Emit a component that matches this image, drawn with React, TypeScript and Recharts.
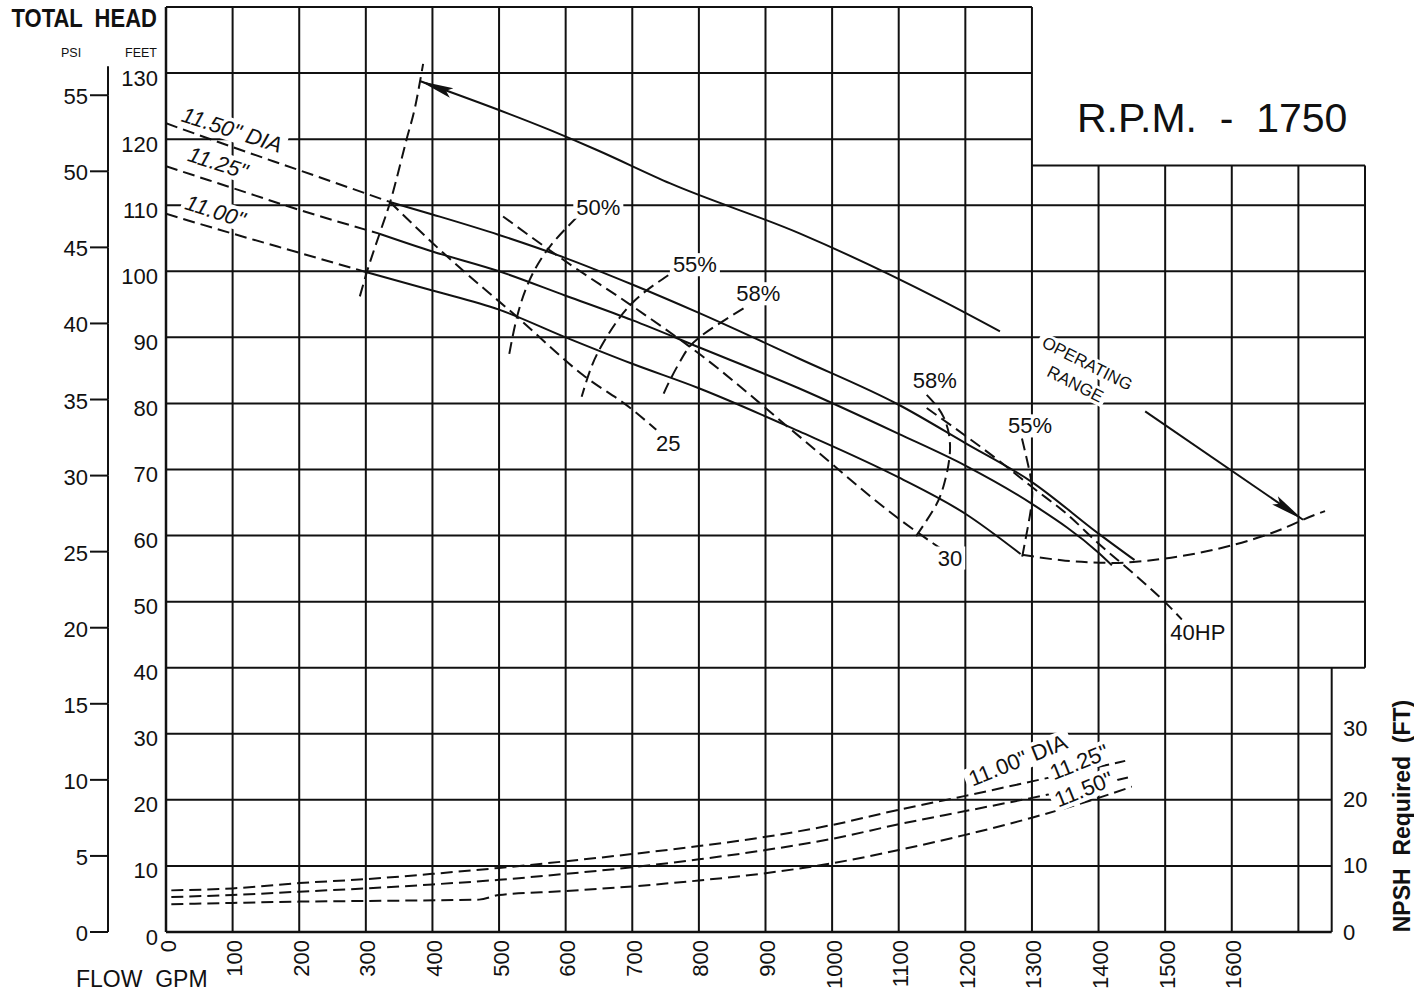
import React from 'react'
import { ComposedChart, Line, XAxis, YAxis, ReferenceLine, ReferenceDot } from 'recharts'

type Pt = { x: number; y: number }

const FONT = '"Liberation Sans", Arial, Helvetica, sans-serif'
const INK = '#111'

// layout
const CHART_W = 1414
const CHART_H = 1000
const MARGIN = { top: 7, right: 0, bottom: 0, left: 58 }
const FEET_AXIS_W = 58
const PSI_AXIS_W = 50
const NPSH_AXIS_W = 49
const FLOW_AXIS_H = 68
const PLOT_W = CHART_W - MARGIN.left - FEET_AXIS_W - PSI_AXIS_W - NPSH_AXIS_W
const PLOT_H = CHART_H - MARGIN.top - FLOW_AXIS_H

const FLOW_MAX = 1800
const FEET_MAX = 140
const PSI_MAX = 60.8

// axis ticks
const flowTicks = [0, 100, 200, 300, 400, 500, 600, 700, 800, 900, 1000, 1100, 1200, 1300, 1400, 1500, 1600]
const feetTicks = [0, 10, 20, 30, 40, 50, 60, 70, 80, 90, 100, 110, 120, 130]
const psiTicks = [0, 5, 10, 15, 20, 25, 30, 35, 40, 45, 50, 55]
const npshTicks = [0, 10, 20, 30]

// head curves (GPM, feet) - dashed below minimum flow, solid after
const head1150Dashed: Pt[] = [
  { x: 0, y: 122.4 }, { x: 100, y: 118.8 }, { x: 200, y: 115.3 }, { x: 336, y: 110.5 },
]
const head1150: Pt[] = [
  { x: 336, y: 110.5 }, { x: 400, y: 108.6 }, { x: 500, y: 105.5 }, { x: 600, y: 102 },
  { x: 700, y: 98 }, { x: 800, y: 93.7 }, { x: 950, y: 86.8 }, { x: 1100, y: 79.8 },
  { x: 1200, y: 74 }, { x: 1300, y: 68.1 }, { x: 1400, y: 60.3 }, { x: 1454, y: 56.3 },
]
const head1125Dashed: Pt[] = [
  { x: 0, y: 115.9 }, { x: 100, y: 112.6 }, { x: 200, y: 109.3 }, { x: 320, y: 105.7 },
]
const head1125: Pt[] = [
  { x: 320, y: 105.7 }, { x: 400, y: 103 }, { x: 500, y: 100 }, { x: 600, y: 96.3 },
  { x: 700, y: 92.6 }, { x: 800, y: 88.5 }, { x: 950, y: 82.3 }, { x: 1100, y: 75.4 },
  { x: 1200, y: 70.6 }, { x: 1300, y: 64.8 }, { x: 1400, y: 57.4 }, { x: 1420, y: 55.5 },
]
const head1100Dashed: Pt[] = [
  { x: 0, y: 108.7 }, { x: 100, y: 105.7 }, { x: 200, y: 102.8 }, { x: 300, y: 99.9 },
]
const head1100: Pt[] = [
  { x: 300, y: 99.9 }, { x: 400, y: 97.1 }, { x: 500, y: 94.2 }, { x: 600, y: 90 },
  { x: 700, y: 86 }, { x: 800, y: 82.3 }, { x: 950, y: 75.8 }, { x: 1100, y: 68.8 },
  { x: 1200, y: 63.3 }, { x: 1283, y: 57.2 },
]

// operating range boundaries and arrows
const minFlowEdge: Pt[] = [
  { x: 291, y: 96.2 }, { x: 301, y: 99.7 }, { x: 321, y: 105.8 }, { x: 336, y: 110.3 },
  { x: 361, y: 119.9 }, { x: 374, y: 124.9 }, { x: 386, y: 131.4 },
]
const maxFlowEdge: Pt[] = [
  { x: 1285, y: 57.1 }, { x: 1350, y: 56.2 }, { x: 1402, y: 55.9 }, { x: 1452, y: 56 },
  { x: 1552, y: 57.4 }, { x: 1652, y: 60.1 }, { x: 1707, y: 62.4 }, { x: 1740, y: 63.7 },
]
const rangeArrowUpper: Pt[] = [
  { x: 381, y: 128.8 }, { x: 576, y: 121.4 }, { x: 646, y: 118.4 }, { x: 757, y: 113.3 },
  { x: 952, y: 105.7 }, { x: 1162, y: 95.7 }, { x: 1252, y: 90.9 },
]
const rangeArrowLower: Pt[] = [{ x: 1470, y: 78.8 }, { x: 1707, y: 62.4 }]

// efficiency curves
const eff50: Pt[] = [
  { x: 617, y: 108.2 }, { x: 576, y: 103.7 }, { x: 546, y: 98.7 }, { x: 527, y: 93.1 }, { x: 515, y: 87.3 },
]
const eff55Left: Pt[] = [
  { x: 754, y: 99.4 }, { x: 697, y: 94.9 }, { x: 656, y: 89.1 }, { x: 637, y: 85.1 }, { x: 624, y: 81 },
]
const eff58Left: Pt[] = [
  { x: 867, y: 94.4 }, { x: 802, y: 90.1 }, { x: 776, y: 87.1 }, { x: 757, y: 83.6 }, { x: 745, y: 81 },
]
const eff58Right: Pt[] = [
  { x: 1142, y: 81.3 }, { x: 1167, y: 78 }, { x: 1177, y: 73 }, { x: 1167, y: 67.4 },
  { x: 1152, y: 63.9 }, { x: 1124, y: 59.6 },
]
const eff55Right: Pt[] = [
  { x: 1285, y: 74.7 }, { x: 1297, y: 69.4 }, { x: 1300, y: 65.4 }, { x: 1292, y: 60.3 }, { x: 1285, y: 56.6 },
]

// horsepower lines
const hp25: Pt[] = [
  { x: 336, y: 110.5 }, { x: 416, y: 102.8 }, { x: 527, y: 93.1 }, { x: 626, y: 84.3 },
  { x: 701, y: 79 }, { x: 736, y: 76 },
]
const hp30: Pt[] = [
  { x: 506, y: 108.3 }, { x: 597, y: 101.7 }, { x: 702, y: 94.6 }, { x: 802, y: 87.4 },
  { x: 952, y: 74.9 }, { x: 1102, y: 62.4 }, { x: 1162, y: 58.1 },
]
const hp40: Pt[] = [
  { x: 1142, y: 79.3 }, { x: 1252, y: 71.2 }, { x: 1302, y: 67.2 }, { x: 1352, y: 63.3 },
  { x: 1402, y: 58.6 }, { x: 1452, y: 54.3 }, { x: 1502, y: 49.7 }, { x: 1525, y: 47.3 },
]

// NPSH required (feet)
const npsh1100: Pt[] = [
  { x: 8, y: 6.3 }, { x: 100, y: 6.6 }, { x: 200, y: 7.4 }, { x: 300, y: 8 }, { x: 400, y: 8.8 },
  { x: 500, y: 9.7 }, { x: 600, y: 10.7 }, { x: 700, y: 11.8 }, { x: 800, y: 13 }, { x: 900, y: 14.4 },
  { x: 1000, y: 16.2 }, { x: 1100, y: 18.5 }, { x: 1200, y: 20.6 }, { x: 1300, y: 22.8 },
  { x: 1400, y: 25 }, { x: 1440, y: 25.9 },
]
const npsh1125: Pt[] = [
  { x: 8, y: 5.3 }, { x: 100, y: 5.6 }, { x: 200, y: 6.1 }, { x: 300, y: 6.6 }, { x: 400, y: 7.2 },
  { x: 500, y: 7.9 }, { x: 600, y: 8.8 }, { x: 700, y: 9.8 }, { x: 800, y: 11 }, { x: 900, y: 12.4 },
  { x: 1000, y: 14.1 }, { x: 1100, y: 16.3 }, { x: 1200, y: 18.3 }, { x: 1300, y: 20.3 },
  { x: 1400, y: 22.4 }, { x: 1450, y: 23.5 },
]
const npsh1150: Pt[] = [
  { x: 8, y: 4.2 }, { x: 100, y: 4.4 }, { x: 200, y: 4.6 }, { x: 300, y: 4.7 }, { x: 470, y: 4.9 },
  { x: 500, y: 5.6 }, { x: 600, y: 6.2 }, { x: 700, y: 6.9 }, { x: 800, y: 7.8 }, { x: 900, y: 8.9 },
  { x: 1000, y: 10.4 }, { x: 1100, y: 12.4 }, { x: 1200, y: 14.7 }, { x: 1300, y: 17.3 },
  { x: 1400, y: 20.3 }, { x: 1450, y: 22 },
]

// grid (the sheet is not a plain rectangle)
const gridVertical: { x: number; from: number; to: number }[] = [
  ...[0, 100, 200, 300, 400, 500, 600, 700, 800, 900, 1000, 1100, 1200, 1300].map(x => ({ x, from: 0, to: 140 })),
  ...[1400, 1500, 1600, 1700].map(x => ({ x, from: 0, to: 116 })),
  { x: 1750, from: 0, to: 40 },
  { x: 1800, from: 40, to: 116 },
]
const gridHorizontal: { y: number; from: number; to: number }[] = [
  ...[140, 130, 120].map(y => ({ y, from: 0, to: 1300 })),
  { y: 116, from: 1300, to: 1800 },
  ...[110, 100, 90, 80, 70, 60, 50, 40].map(y => ({ y, from: 0, to: 1800 })),
  ...[30, 20, 10, 0].map(y => ({ y, from: 0, to: 1750 })),
]

type Series = { key: string; data: Pt[]; dash?: boolean; curve?: 'monotone' | 'natural' | 'linear'; axis?: string }
const series: Series[] = [
  { key: 'h1150d', data: head1150Dashed, dash: true },
  { key: 'h1150', data: head1150 },
  { key: 'h1125d', data: head1125Dashed, dash: true },
  { key: 'h1125', data: head1125 },
  { key: 'h1100d', data: head1100Dashed, dash: true },
  { key: 'h1100', data: head1100 },
  { key: 'minflow', data: minFlowEdge, dash: true },
  { key: 'maxflow', data: maxFlowEdge, dash: true, curve: 'natural' },
  { key: 'arrowUp', data: rangeArrowUpper },
  { key: 'arrowLo', data: rangeArrowLower, curve: 'linear' },
  { key: 'e50', data: eff50, dash: true, curve: 'natural' },
  { key: 'e55l', data: eff55Left, dash: true, curve: 'natural' },
  { key: 'e58l', data: eff58Left, dash: true, curve: 'natural' },
  { key: 'e58r', data: eff58Right, dash: true, curve: 'natural' },
  { key: 'e55r', data: eff55Right, dash: true, curve: 'natural' },
  { key: 'hp25', data: hp25, dash: true },
  { key: 'hp30', data: hp30, dash: true },
  { key: 'hp40', data: hp40, dash: true },
  { key: 'n1100', data: npsh1100, dash: true, axis: 'npsh' },
  { key: 'n1125', data: npsh1125, dash: true, axis: 'npsh' },
  { key: 'n1150', data: npsh1150, dash: true, axis: 'npsh' },
]

type Tag = { text: string; x: number; y: number; angle?: number; size?: number; italic?: boolean; axis?: string }
const tags: Tag[] = [
  { text: '11.50" DIA', x: 99, y: 121.4, angle: 18, italic: true },
  { text: '11.25"', x: 78, y: 116.4, angle: 18, italic: true },
  { text: '11.00"', x: 74, y: 109.1, angle: 18, italic: true },
  { text: '50%', x: 649, y: 109.7 },
  { text: '55%', x: 794, y: 101 },
  { text: '58%', x: 889, y: 96.6 },
  { text: '25', x: 754, y: 74 },
  { text: '58%', x: 1154, y: 83.5 },
  { text: '55%', x: 1297, y: 76.6 },
  { text: '30', x: 1177, y: 56.6 },
  { text: '40HP', x: 1549, y: 45.4 },
  { text: 'OPERATING', x: 1383, y: 86, angle: 27, size: 17 },
  { text: 'RANGE', x: 1365, y: 82.9, angle: 27, size: 17 },
  { text: '11.00" DIA', x: 1279, y: 26, angle: -22, axis: 'npsh' },
  { text: '11.25"', x: 1371, y: 25.7, angle: -22, axis: 'npsh' },
  { text: '11.50"', x: 1378, y: 21.6, angle: -22, axis: 'npsh' },
]

const CHAR_W: Record<string, number> = { '.': 0.278, '"': 0.355, ' ': 0.278, '%': 0.889, I: 0.278 }
const textWidth = (s: string, size: number) =>
  s.split('').reduce((w, c) => w + (CHAR_W[c] ?? (/[0-9]/.test(c) ? 0.556 : 0.72)), 0) * size

function TagShape({ cx, cy, tag }: { cx: number; cy: number; tag: Tag }) {
  const size = tag.size ?? 22
  const w = textWidth(tag.text, size) + 6
  const h = size * 1.05
  return (
    <g transform={`translate(${cx},${cy}) rotate(${tag.angle ?? 0})`}>
      <rect x={-w / 2} y={-h / 2} width={w} height={h} fill="#fff" />
      <text
        textAnchor="middle"
        dominantBaseline="central"
        fontSize={size}
        fontStyle={tag.italic ? 'italic' : 'normal'}
        fontFamily={FONT}
        fill={INK}
      >
        {tag.text}
      </text>
    </g>
  )
}

// direction of an arrow tip, in screen degrees
const arrowAngle = (tip: Pt, prev: Pt) => {
  const dx = (tip.x - prev.x) * (PLOT_W / FLOW_MAX)
  const dy = -(tip.y - prev.y) * (PLOT_H / FEET_MAX)
  return (Math.atan2(dy, dx) * 180) / Math.PI
}
const arrows = [
  { tip: rangeArrowUpper[0], angle: arrowAngle(rangeArrowUpper[0], rangeArrowUpper[1]) },
  {
    tip: rangeArrowLower[rangeArrowLower.length - 1],
    angle: arrowAngle(rangeArrowLower[rangeArrowLower.length - 1], rangeArrowLower[0]),
  },
]

function Arrowhead({ cx, cy, angle }: { cx: number; cy: number; angle: number }) {
  return <path transform={`translate(${cx},${cy}) rotate(${angle})`} d="M0,0 L-34,-5 L-28,0 L-34,5 Z" fill={INK} />
}

const PSI_STEP_PX = (PLOT_H / PSI_MAX) * 5

function PsiTick(props: any) {
  const { x, y, payload } = props
  const v = payload.value
  return (
    <g>
      <line x1={x - 18} y1={y} x2={x} y2={y} stroke={INK} strokeWidth={2} />
      {v > 0 && <line x1={x} y1={y} x2={x} y2={y + PSI_STEP_PX} stroke={INK} strokeWidth={2} />}
      {v === 55 && <line x1={x} y1={y} x2={x} y2={y - 29} stroke={INK} strokeWidth={2} />}
      <text x={x - 20} y={y + 1.5} textAnchor="end" dominantBaseline="central" fontSize={22} fontFamily={FONT} fill={INK}>
        {v}
      </text>
    </g>
  )
}

function FeetTick(props: any) {
  const { x, y, payload } = props
  return (
    <text x={x} y={y + 5} textAnchor="end" dominantBaseline="central" fontSize={22} fontFamily={FONT} fill={INK}>
      {payload.value}
    </text>
  )
}

function FlowTick(props: any) {
  const { x, y, payload } = props
  return (
    <text
      x={x + 2}
      y={y}
      transform={`rotate(-90 ${x + 2} ${y})`}
      textAnchor="end"
      dominantBaseline="central"
      fontSize={22}
      fontFamily={FONT}
      fill={INK}
    >
      {payload.value}
    </text>
  )
}

function NpshTick(props: any) {
  const { x, y, payload } = props
  return (
    <text
      x={x - 22}
      y={payload.value === 30 ? y - 5 : y}
      textAnchor="start"
      dominantBaseline="central"
      fontSize={22}
      fontFamily={FONT}
      fill={INK}
    >
      {payload.value}
    </text>
  )
}

export default function App() {
  return (
    <div style={{ position: 'absolute', left: 0, top: 0, width: CHART_W, height: CHART_H, background: '#fff' }}>
      <ComposedChart width={CHART_W} height={CHART_H} margin={MARGIN} style={{ fontFamily: FONT }}>
        <XAxis
          dataKey="x"
          type="number"
          domain={[0, FLOW_MAX]}
          ticks={flowTicks}
          interval={0}
          height={FLOW_AXIS_H}
          axisLine={false}
          tickLine={false}
          tickSize={0}
          tickMargin={8}
          tick={<FlowTick />}
          allowDataOverflow
        />
        <YAxis
          yAxisId="ft"
          type="number"
          domain={[0, FEET_MAX]}
          ticks={feetTicks}
          interval={0}
          width={FEET_AXIS_W}
          axisLine={false}
          tickLine={false}
          tickSize={0}
          tickMargin={8}
          tick={<FeetTick />}
          allowDataOverflow
        />
        <YAxis
          yAxisId="psi"
          type="number"
          domain={[0, PSI_MAX]}
          ticks={psiTicks}
          interval={0}
          width={PSI_AXIS_W}
          axisLine={false}
          tickLine={false}
          tickSize={0}
          tickMargin={0}
          tick={<PsiTick />}
          allowDataOverflow
        />
        <YAxis
          yAxisId="npsh"
          orientation="right"
          type="number"
          domain={[0, FEET_MAX]}
          ticks={npshTicks}
          interval={0}
          width={NPSH_AXIS_W}
          axisLine={false}
          tickLine={false}
          tickSize={0}
          tickMargin={0}
          tick={<NpshTick />}
          allowDataOverflow
        />

        {gridVertical.map(g => (
          <ReferenceLine
            key={`v${g.x}`}
            yAxisId="ft"
            segment={[{ x: g.x, y: g.from }, { x: g.x, y: g.to }]}
            stroke={INK}
            strokeWidth={g.x === 0 ? 2.5 : 2}
            ifOverflow="visible"
          />
        ))}
        {gridHorizontal.map(g => (
          <ReferenceLine
            key={`h${g.y}`}
            yAxisId="ft"
            segment={[{ x: g.from, y: g.y }, { x: g.to, y: g.y }]}
            stroke={INK}
            strokeWidth={g.y === 0 ? 2.5 : 2}
            ifOverflow="visible"
          />
        ))}

        {series.map(s => (
          <Line
            key={s.key}
            data={s.data}
            dataKey="y"
            yAxisId={s.axis ?? 'ft'}
            type={s.curve ?? 'monotone'}
            stroke={INK}
            strokeWidth={2}
            strokeDasharray={s.dash ? '12 6' : undefined}
            dot={false}
            activeDot={false}
            legendType="none"
            isAnimationActive={false}
          />
        ))}

        {arrows.map((a, i) => (
          <ReferenceDot
            key={`arrow${i}`}
            yAxisId="ft"
            x={a.tip.x}
            y={a.tip.y}
            r={1}
            ifOverflow="visible"
            shape={(p: any) => <Arrowhead cx={p.cx} cy={p.cy} angle={a.angle} />}
          />
        ))}

        {tags.map((t, i) => (
          <ReferenceDot
            key={`tag${i}`}
            yAxisId={t.axis ?? 'ft'}
            x={t.x}
            y={t.y}
            r={1}
            ifOverflow="visible"
            shape={(p: any) => <TagShape cx={p.cx} cy={p.cy} tag={t} />}
          />
        ))}
      </ComposedChart>

      <svg
        width={CHART_W}
        height={CHART_H}
        style={{ position: 'absolute', left: 0, top: 0, pointerEvents: 'none' }}
        fontFamily={FONT}
        fill={INK}
      >
        <text xmlSpace="preserve" transform="translate(11.5,26.7) scale(1,1.17)" fontSize={22} fontWeight="bold">
          {'TOTAL  HEAD'}
        </text>
        <text x={61} y={57} fontSize={12.5}>PSI</text>
        <text x={125} y={57} fontSize={12.5}>FEET</text>
        <text xmlSpace="preserve" x={76} y={986.7} fontSize={23}>{'FLOW  GPM'}</text>
        <text xmlSpace="preserve" x={1077} y={131.7} fontSize={41}>{'R.P.M.  -  1750'}</text>
        <text
          xmlSpace="preserve"
          x={1410}
          y={816}
          transform="rotate(-90 1410 816)"
          textAnchor="middle"
          fontSize={23}
          fontWeight="bold"
        >
          {'NPSH  Required  (FT)'}
        </text>
      </svg>
    </div>
  )
}
